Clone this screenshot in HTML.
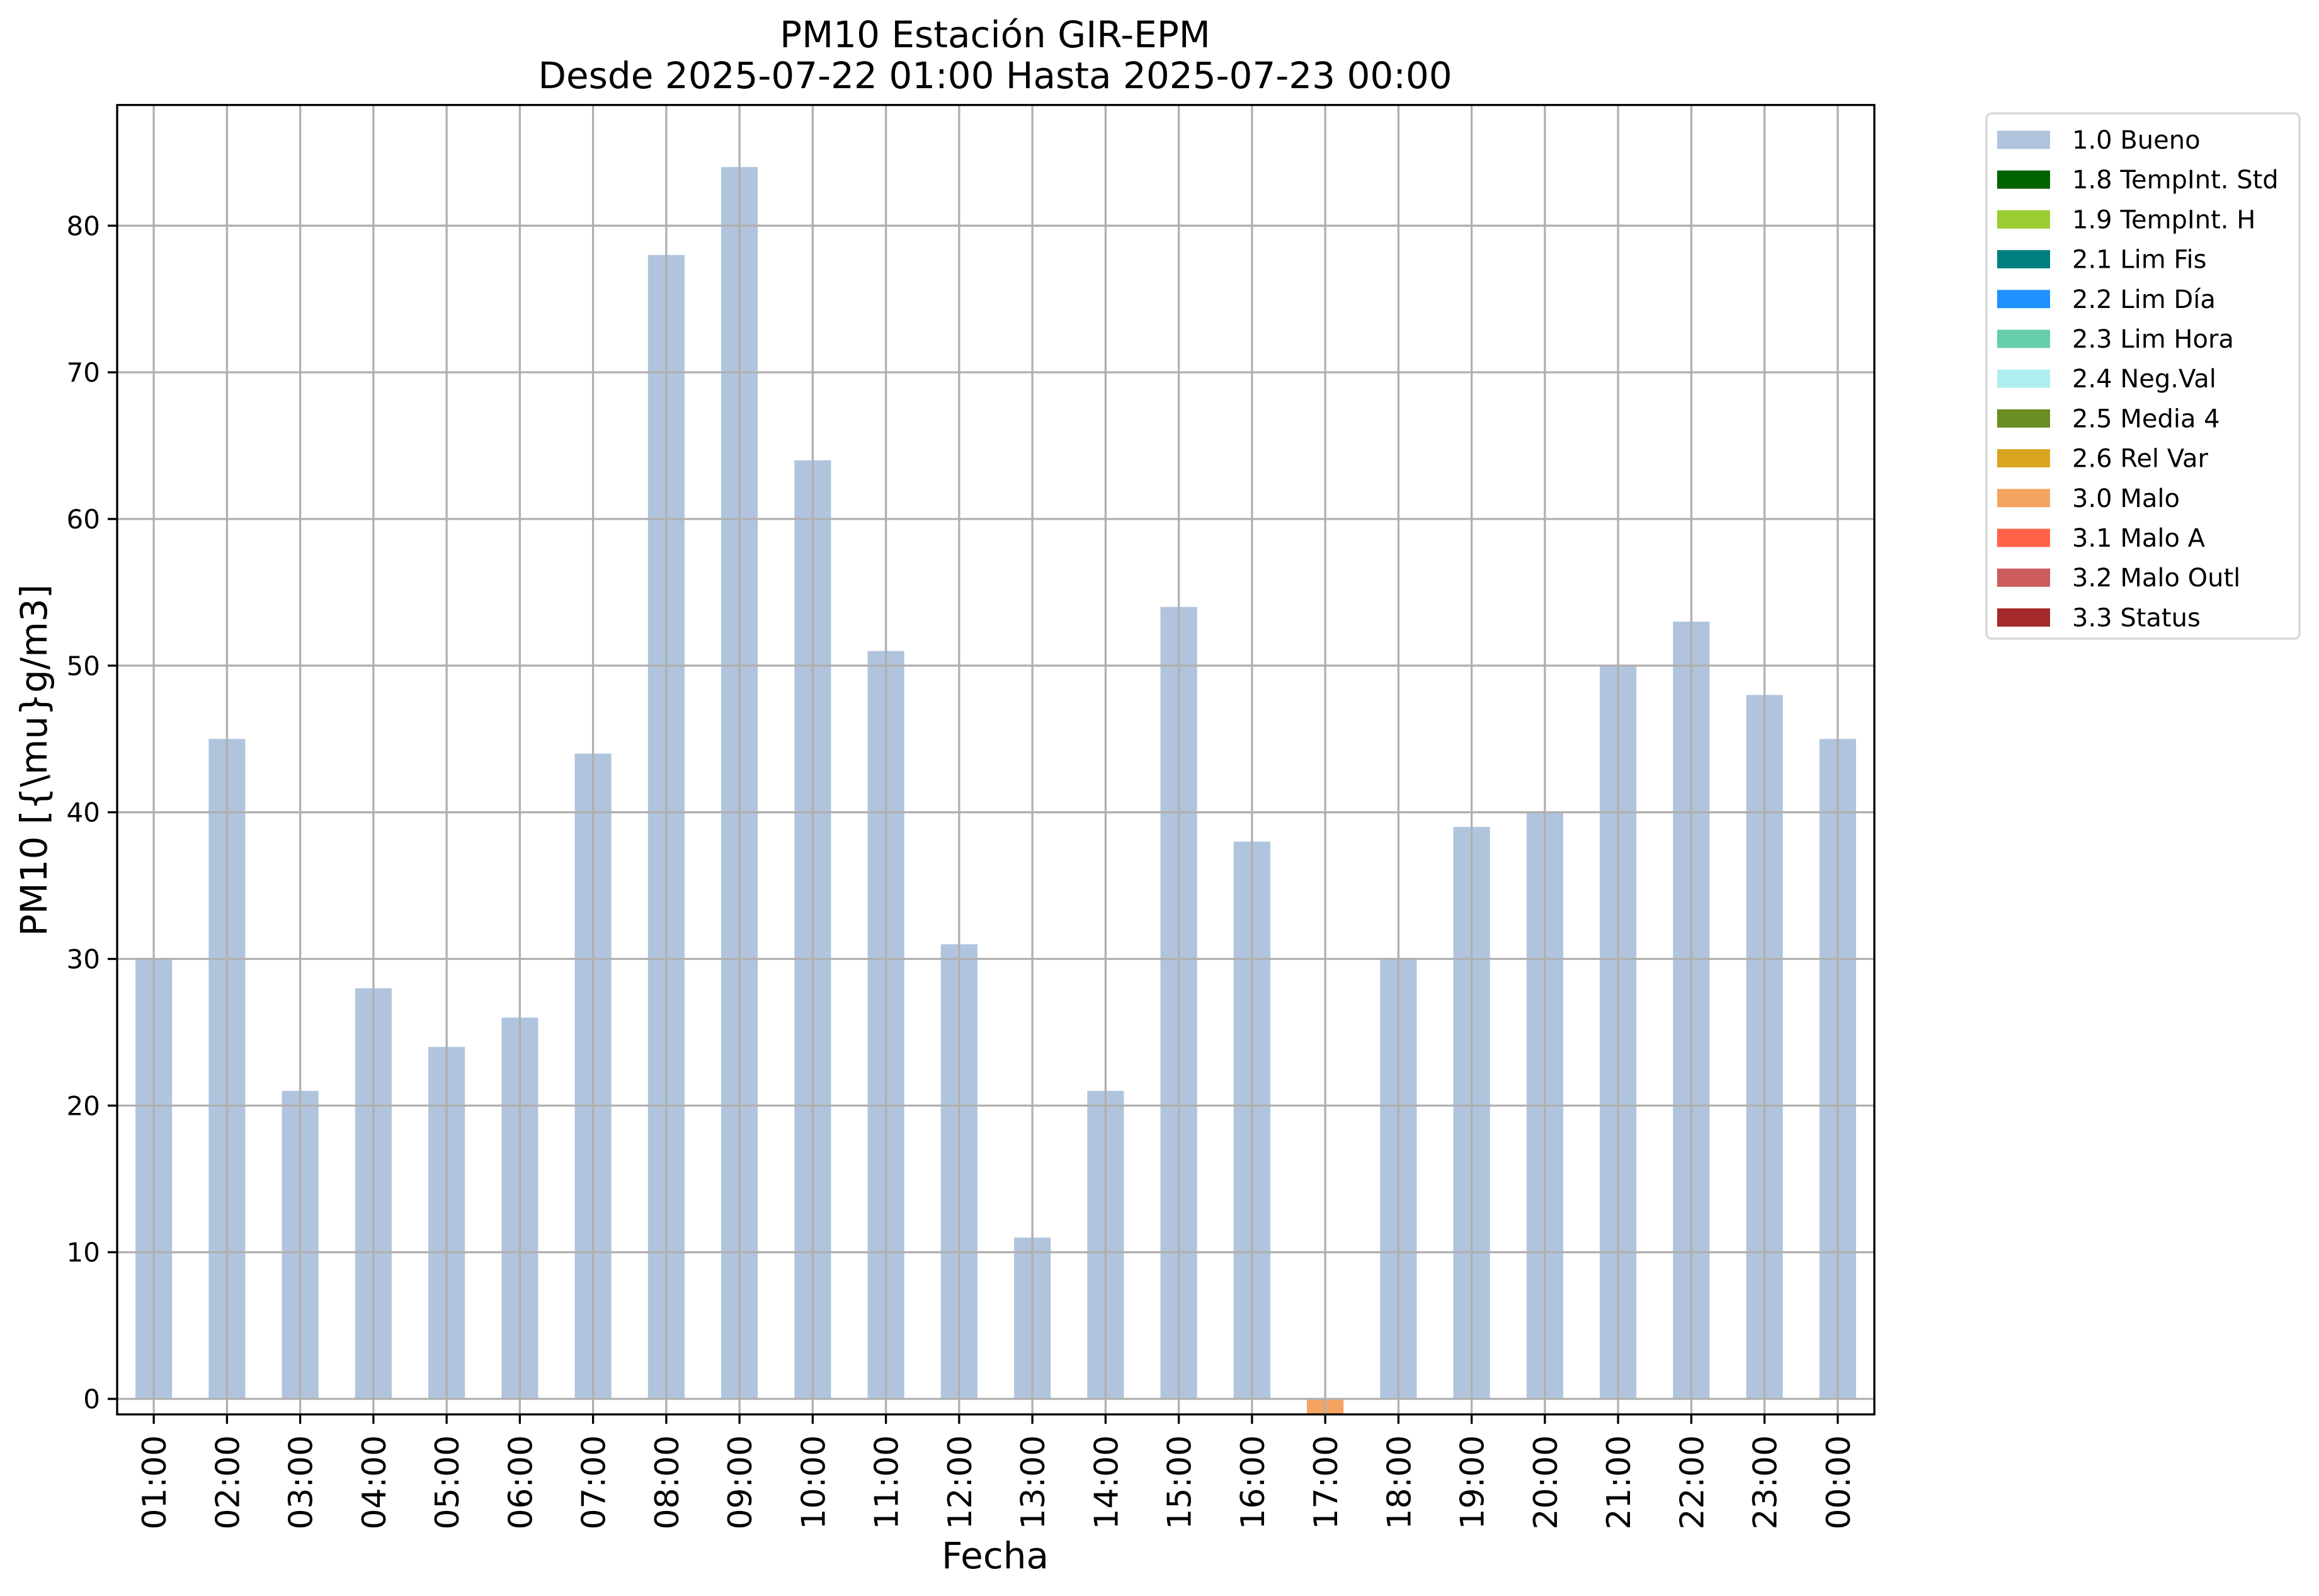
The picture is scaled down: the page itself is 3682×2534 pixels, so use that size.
<!DOCTYPE html>
<html><head><meta charset="utf-8"><style>
html,body{margin:0;padding:0;background:#fff;}
svg{display:block;font-family:"DejaVu Sans","Liberation Sans",sans-serif;}
</style></head><body>
<svg id="chart" width="3682" height="2534" viewBox="0 0 3682 2534" xmlns="http://www.w3.org/2000/svg">
<rect width="3682" height="2534" fill="#fff"/>
<defs><clipPath id="plotclip"><rect x="186" y="166.7" width="2790" height="2079"/></clipPath></defs>
<text x="1580" y="75" font-size="58" text-anchor="middle">PM10 Estación GIR-EPM</text>
<text x="1580" y="140" font-size="58" text-anchor="middle">Desde 2025-07-22 01:00 Hasta 2025-07-23 00:00</text>
<g id="grid"></g>
<g id="bars" clip-path="url(#plotclip)"></g>
<g id="gridtop"></g>
<rect x="186" y="166.7" width="2790" height="2079" fill="none" stroke="#000" stroke-width="3.3"/>
<g id="axes"></g>
<text transform="translate(74,1207) rotate(-90)" font-size="58" text-anchor="middle">PM10 [{\mu}g/m3]</text>
<text x="1580" y="2490" font-size="58" text-anchor="middle">Fecha</text>
<g id="legend"></g>
</svg>
<script>
const categories = ["01:00","02:00","03:00","04:00","05:00","06:00","07:00","08:00","09:00","10:00","11:00","12:00","13:00","14:00","15:00","16:00","17:00","18:00","19:00","20:00","21:00","22:00","23:00","00:00"];
const buenoValues = [30,45,21,28,24,26,44,78,84,64,51,31,11,21,54,38,null,30,39,40,50,53,48,45];
const maloValues = [null,null,null,null,null,null,null,null,null,null,null,null,null,null,null,null,-5,null,null,null,null,null,null,null];
const yTicks = [0,10,20,30,40,50,60,70,80];
const legendLabels = ["1.0 Bueno","1.8 TempInt. Std","1.9 TempInt. H","2.1 Lim Fis","2.2 Lim Día","2.3 Lim Hora","2.4 Neg.Val","2.5 Media 4","2.6 Rel Var","3.0 Malo","3.1 Malo A","3.2 Malo Outl","3.3 Status"];
const legendColors = ["#b0c4de","#006400","#9acd32","#008080","#1e90ff","#66cdaa","#afeeee","#6b8e23","#daa520","#f4a460","#ff6347","#cd5c5c","#a52a2a"];

const NS="http://www.w3.org/2000/svg";
const X0=186,X1=2976,Y0=166.7,Y1=2245.7;
const yMin=-1.06,yMax=88.23;
const n=categories.length;
function xScale(i){return X0+(i+0.5)/n*(X1-X0);}
function yScale(v){return Y1-(v-yMin)/(yMax-yMin)*(Y1-Y0);}
const bw=(X1-X0)/n*0.5;
function mk(tag,attrs,parent){const e=document.createElementNS(NS,tag);for(const k in attrs)e.setAttribute(k,attrs[k]);parent.appendChild(e);return e;}
const grid=document.getElementById('gridtop'),bars=document.getElementById('bars'),axes=document.getElementById('axes'),legend=document.getElementById('legend');
function drawBars(vals,color,name){
  vals.forEach((v,i)=>{
    if(v===null)return;
    const y=Math.min(yScale(v),yScale(0)),h=Math.abs(yScale(v)-yScale(0));
    const r=mk('rect',{x:xScale(i)-bw/2,y:y,width:bw,height:h,fill:color},bars);
    
    
  });
}
drawBars(buenoValues,"#b0c4de","bar-bueno");
drawBars(maloValues,"#f4a460","bar-malo");
yTicks.forEach(t=>{
  const y=yScale(t);
  const g=mk('line',{x1:X0,x2:X1,y1:y,y2:y,stroke:"#b0b0b0","stroke-width":3.3},grid);
  
  
  const tk=mk('line',{x1:X0-15,x2:X0,y1:y,y2:y,stroke:"#000","stroke-width":3.3},axes);
  
  
  const tx=mk('text',{x:X0-27,y:y+15,"font-size":42,"text-anchor":"end"},axes);
  tx.textContent=t;
  
  
});
categories.forEach((c,i)=>{
  const x=xScale(i);
  const g=mk('line',{x1:x,x2:x,y1:Y0,y2:Y1,stroke:"#b0b0b0","stroke-width":3.3},grid);
  
  
  const tk=mk('line',{x1:x,x2:x,y1:Y1,y2:Y1+15,stroke:"#000","stroke-width":3.3},axes);
  
  
  const tx=mk('text',{transform:`translate(${x+19},${Y1+33}) rotate(-90)`,"font-size":52,"text-anchor":"end"},axes);
  tx.textContent=c;
  
  
});
const box=mk('rect',{x:3154,y:180,width:3497-3000,height:834,rx:8,fill:"#fff","fill-opacity":0.8,stroke:"#d6d6d6","stroke-width":3.3},legend);


legendLabels.forEach((l,i)=>{
  const cy=222+i*63.2;
  const p=mk('rect',{x:3171,y:cy-14.5,width:84,height:29,fill:legendColors[i]},legend);
  
  
  const t=mk('text',{x:3290,y:cy+14,"font-size":40},legend);
  t.textContent=l;
  
  
});
</script>
</body></html>
